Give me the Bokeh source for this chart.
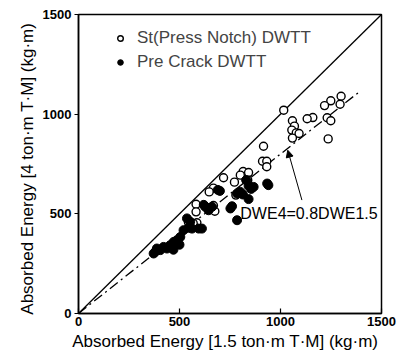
from bokeh.plotting import figure
from bokeh.models import Range1d, Legend, LegendItem, Label, Arrow, NormalHead, FixedTicker
from bokeh.embed import file_html
from bokeh.resources import INLINE

# St (Press Notch) DWTT - open circles
open_x = [1016, 1300, 1295, 1249, 1218, 1231, 1249, 1236, 1160, 1132,
          1059, 1069, 1056, 1078, 1092, 1059, 916, 911, 932, 932,
          815, 842, 838, 772, 779, 718, 668, 647, 582, 582,
          675, 668, 586, 801, 544, 568]
open_y = [1020, 1090, 1050, 1067, 1043, 982, 967, 876, 983, 977,
          967, 940, 920, 906, 903, 880, 839, 764, 764, 736,
          712, 707, 669, 659, 594, 681, 629, 610, 548, 510,
          513, 542, 455, 694, 458, 452]

# Pre Crack DWTT - filled circles
filled_x = [940, 934, 867, 842, 814, 785, 801, 830, 842, 752,
            760, 785, 690, 700, 628, 644, 661, 537, 553, 611,
            595, 562, 520, 504, 487, 471, 454, 438, 421, 405,
            388, 380, 372, 470, 480, 500, 545, 620, 855, 640]
filled_y = [644, 652, 635, 574, 597, 602, 610, 669, 640, 527,
            538, 468, 620, 615, 535, 518, 535, 477, 460, 426,
            426, 426, 418, 384, 368, 359, 343, 326, 334, 318,
            326, 309, 301, 320, 355, 345, 430, 545, 625, 530]

unity_x = [0, 1500]
unity_y = [0, 1500]
fit_x = [0, 1390]
fit_y = [0, 1112]
ticks = [0, 500, 1000, 1500]

FONT = "Liberation Sans"

p = figure(width=403, height=353, output_backend="svg", toolbar_location=None,
           x_range=Range1d(0, 1500), y_range=Range1d(0, 1500),
           min_border_left=78, min_border_right=22, min_border_top=14, min_border_bottom=40)
p.frame_width = 303
p.frame_height = 299
p.grid.visible = False
p.outline_line_color = "black"
p.outline_line_width = 1.5
p.background_fill_color = "white"
p.border_fill_color = "white"

p.xaxis.ticker = FixedTicker(ticks=ticks)
p.yaxis.ticker = FixedTicker(ticks=ticks)
p.xaxis.minor_tick_line_color = None
p.yaxis.minor_tick_line_color = None
p.xaxis.major_tick_in = 5
p.xaxis.major_tick_out = 0
p.yaxis.major_tick_in = 0
p.yaxis.major_tick_out = 4
for ax in (p.xaxis, p.yaxis):
    ax.axis_line_width = 1.5
    ax.major_tick_line_width = 1.2
    ax.major_label_text_font = FONT
    ax.major_label_text_font_size = "13px"
    ax.major_label_text_font_style = "bold"
    ax.major_label_text_color = "black"
    ax.axis_label_text_font = FONT
    ax.axis_label_text_font_size = "17px"
    ax.axis_label_text_font_style = "normal"
    ax.axis_label_text_color = "black"
    ax.axis_label_standoff = 3
p.xaxis.major_label_standoff = 3
p.yaxis.major_label_standoff = 3
p.xaxis.axis_label = "Absorbed  Energy  [1.5 ton·m T·M] (kg·m)"
p.yaxis.axis_label = "Absorbed  Energy  [4 ton·m T·M] (kg·m)"

p.line(unity_x, unity_y, line_color="black", line_width=1.3)
p.line(fit_x, fit_y, line_color="black", line_width=1.3, line_dash="10 4 2 4")

r_open = p.scatter(open_x, open_y, marker="circle", size=8, fill_color="white",
                   line_color="black", line_width=1.4)
r_fill = p.scatter(filled_x, filled_y, marker="circle", size=9, fill_color="black",
                   line_color="black", line_width=1)

legend = Legend(items=[LegendItem(label="St(Press Notch) DWTT", renderers=[r_open]),
                       LegendItem(label="Pre Crack DWTT", renderers=[r_fill])],
                location=(35, 241), border_line_alpha=0, background_fill_alpha=0,
                padding=0, margin=0, spacing=4, glyph_width=14, glyph_height=18,
                label_height=18, label_standoff=10,
                label_text_font=FONT, label_text_font_size="17px")
p.add_layout(legend)

p.add_layout(Label(x=801, y=503, text="DWE4=0.8DWE1.5", text_font=FONT,
                   text_font_size="16px", text_baseline="middle", text_color="black"))
p.add_layout(Arrow(x_start=1106, y_start=569, x_end=1036, y_end=819,
                   line_color="black", line_width=1,
                   end=NormalHead(size=7, fill_color="black", line_color="black")))

open("out.html", "w").write(file_html(p, INLINE))
